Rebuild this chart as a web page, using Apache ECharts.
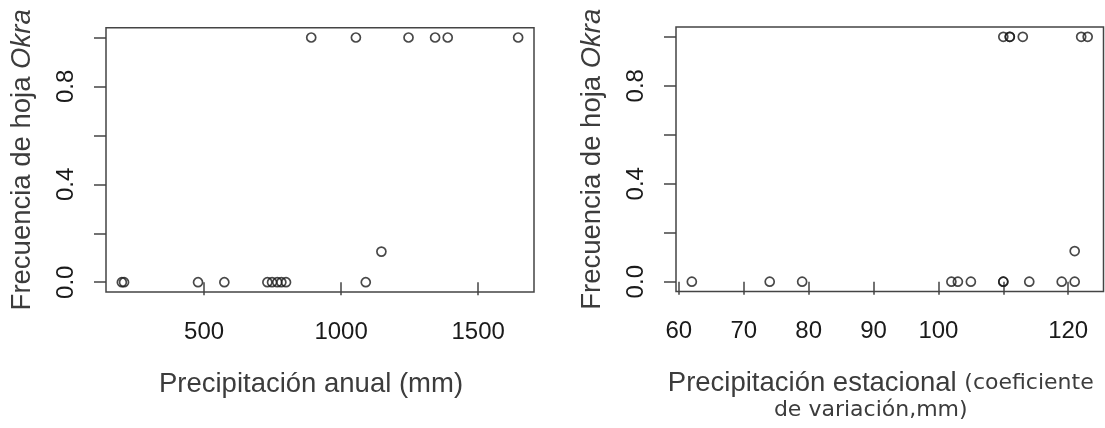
<!DOCTYPE html>
<html>
<head>
<meta charset="utf-8">
<script src="https://cdn.jsdelivr.net/npm/echarts@6/dist/echarts.min.js"></script>
<style>
html,body{margin:0;padding:0;background:#fff;}
#c{width:1105px;height:428px;}
</style>
</head>
<body>
<div id="c"></div>
<script>
// Left panel: annual precipitation (mm) vs Okra leaf frequency
const annualX = [200, 208, 478, 574, 731, 748, 767, 782, 799, 1090, 1147, 891, 1054, 1246, 1343, 1389, 1646];
const annualY = [0, 0, 0, 0, 0, 0, 0, 0, 0, 0, 0.125, 1, 1, 1, 1, 1, 1];
// Right panel: seasonal precipitation (CV) vs Okra leaf frequency
const seasonalX = [62, 74, 79, 102, 103, 105, 110, 110, 114, 119, 121, 121, 110, 111, 111, 113, 122, 123];
const seasonalY = [0, 0, 0, 0, 0, 0, 0, 0, 0, 0, 0, 0.125, 1, 1, 1, 1, 1, 1];
// Tick labels
const yTicks = [0, 0.2, 0.4, 0.6, 0.8, 1.0];
const yLabels = [0, 0.4, 0.8];
const leftXTicks = [500, 1000, 1500];
const rightXTicks = [60, 70, 80, 90, 100, 110, 120];
const rightXLabels = [60, 70, 80, 90, 100, 120];

function ext(arr){ const mn=Math.min(...arr), mx=Math.max(...arr), d=(mx-mn)*0.04; return [mn-d, mx+d]; }
const lx = ext(annualX), rx = ext(seasonalX), yr = ext(annualY);

const FONT = 'Liberation Sans, Arial, sans-serif';
const FONT2 = 'DejaVu Sans, sans-serif';
const TITLE_C = '#3c3c3c';
const tickLabel = {color:'#1a1a1a', fontSize:24, fontFamily:FONT};
const lineC = '#444';

function xAxis(gi, range, ticks, labels, name, gap, pad){
  return {
    type:'value', gridIndex:gi, min:range[0], max:range[1],
    axisLine:{show:false}, splitLine:{show:false},
    axisTick:{show:true, length:13, customValues:ticks, lineStyle:{color:lineC, width:1.5}},
    axisLabel:Object.assign({show:true, margin:28, customValues:labels, formatter:v=>String(v)}, tickLabel),
    name:name, nameLocation:'middle', nameGap:gap,
    nameTextStyle:{color:TITLE_C, fontSize:27.5, fontFamily:FONT, padding:pad, rich:{
      a:{fontSize:27.5, color:TITLE_C, fontFamily:FONT, lineHeight:30},
      b:{fontSize:22, color:TITLE_C, fontFamily:FONT2, lineHeight:24},
      c:{fontSize:22, color:TITLE_C, fontFamily:FONT2, lineHeight:24, padding:[0,20,0,0]}
    }}
  };
}
function yAxis(gi){
  return {
    type:'value', gridIndex:gi, min:yr[0], max:yr[1],
    axisLine:{show:false}, splitLine:{show:false},
    axisTick:{show:true, length:12, customValues:yTicks, lineStyle:{color:lineC, width:1.5}},
    axisLabel:Object.assign({show:true, rotate:90, margin:28, customValues:yLabels,
      formatter:v=>Number(v).toFixed(1)}, tickLabel),
    name:'{n|Frecuencia de hoja }{i|Okra}', nameLocation:'middle', nameRotate:90, nameGap:70,
    nameTextStyle:{rich:{
      n:{fontSize:27.5, color:TITLE_C, fontFamily:FONT},
      i:{fontSize:27.5, color:TITLE_C, fontFamily:FONT, fontStyle:'italic'}
    }}
  };
}

const chart = echarts.init(document.getElementById('c'), null, {renderer:'canvas'});
const sym = {color:'rgba(0,0,0,0)', borderColor:'#1a1a1a', borderWidth:1.7};
chart.setOption({
  animation:false,
  grid:[
    {left:106, top:27.7, width:428, height:264.3, show:true, borderColor:lineC, borderWidth:1.5, backgroundColor:'transparent'},
    {left:676, top:27, width:427.5, height:264.5, show:true, borderColor:lineC, borderWidth:1.5, backgroundColor:'transparent'}
  ],
  xAxis:[
    xAxis(0, lx, leftXTicks, leftXTicks, 'Precipitación anual (mm)', 78, [0,18,0,0]),
    xAxis(1, rx, rightXTicks, rightXLabels, '{a|Precipitación estacional} {b|(coeficiente}\n{c|de variación,mm)}', 77, [0,18,0,0])
  ],
  yAxis:[yAxis(0), yAxis(1)],
  series:[
    {type:'scatter', xAxisIndex:0, yAxisIndex:0, symbol:'circle', symbolSize:9, itemStyle:sym,
      data:annualX.map((x,i)=>[x, annualY[i]])},
    {type:'scatter', xAxisIndex:1, yAxisIndex:1, symbol:'circle', symbolSize:9, itemStyle:sym,
      data:seasonalX.map((x,i)=>[x, seasonalY[i]])}
  ]
});
</script>
</body>
</html>
